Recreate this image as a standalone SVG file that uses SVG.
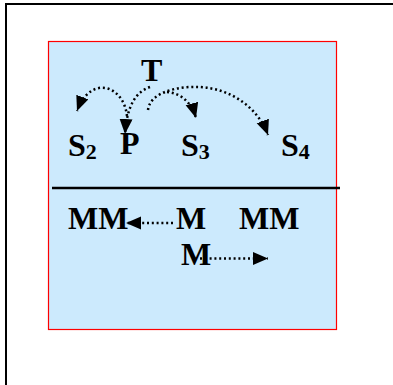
<svg xmlns="http://www.w3.org/2000/svg" width="393" height="385" viewBox="0 0 393 385">
<style>
text{font-family:"Liberation Serif","Times New Roman",serif;font-weight:bold;fill:#000}
.t{font-size:32px}
.sub{font-size:22px}
.dot{fill:none;stroke:#000;stroke-width:2.5;stroke-dasharray:2 2.8}
</style>
<defs>
<marker id="ah" markerUnits="userSpaceOnUse" markerWidth="17" markerHeight="14" refX="15" refY="6.5" orient="auto">
<path d="M0,0 L15,6.5 L0,13 z" fill="#000"/>
</marker>
</defs>
<rect width="393" height="385" fill="#fff"/>
<path d="M6,385 V4 H393" fill="none" stroke="#000" stroke-width="2"/>
<rect x="48.5" y="41.5" width="288" height="288" fill="#CCEAFD" stroke="#F00" stroke-width="1.2"/>
<line x1="52" y1="188" x2="340" y2="188" stroke="#000" stroke-width="2.5"/>
<g id="T"><text class="t" x="141" y="81">T</text></g>
<g id="S2"><text class="t" x="68" y="156">S<tspan class="sub" dy="3">2</tspan></text></g>
<g id="P"><text class="t" x="120" y="154">P</text></g>
<g id="S3"><text class="t" x="181" y="156">S<tspan class="sub" dy="3">3</tspan></text></g>
<g id="S4"><text class="t" x="281" y="156">S<tspan class="sub" dy="3">4</tspan></text></g>
<g id="MM1"><text class="t" x="68" y="229">MM</text></g>
<g id="M1"><text class="t" x="176" y="229">M</text></g>
<g id="MM2"><text class="t" x="239" y="229">MM</text></g>
<g id="M2"><text class="t" x="181" y="265">M</text></g>
<g id="connectors">
<path class="dot" d="M127,116 C125,97 112,86 99,88 C89,90 82,98 77,111" marker-end="url(#ah)"/>
<path class="dot" d="M150,87 C136,92 127,105 125,134" marker-end="url(#ah)"/>
<path class="dot" d="M148,110 C150,92 178,86 200,87 C232,89 258,108 268,135" marker-end="url(#ah)"/>
<path class="dot" d="M167,92 C182,93 192,104 196,118" marker-end="url(#ah)"/>
<path class="dot" d="M173,223 H126" marker-end="url(#ah)"/>
<path class="dot" d="M200,258.5 H268" marker-end="url(#ah)"/>
</g>
</svg>
